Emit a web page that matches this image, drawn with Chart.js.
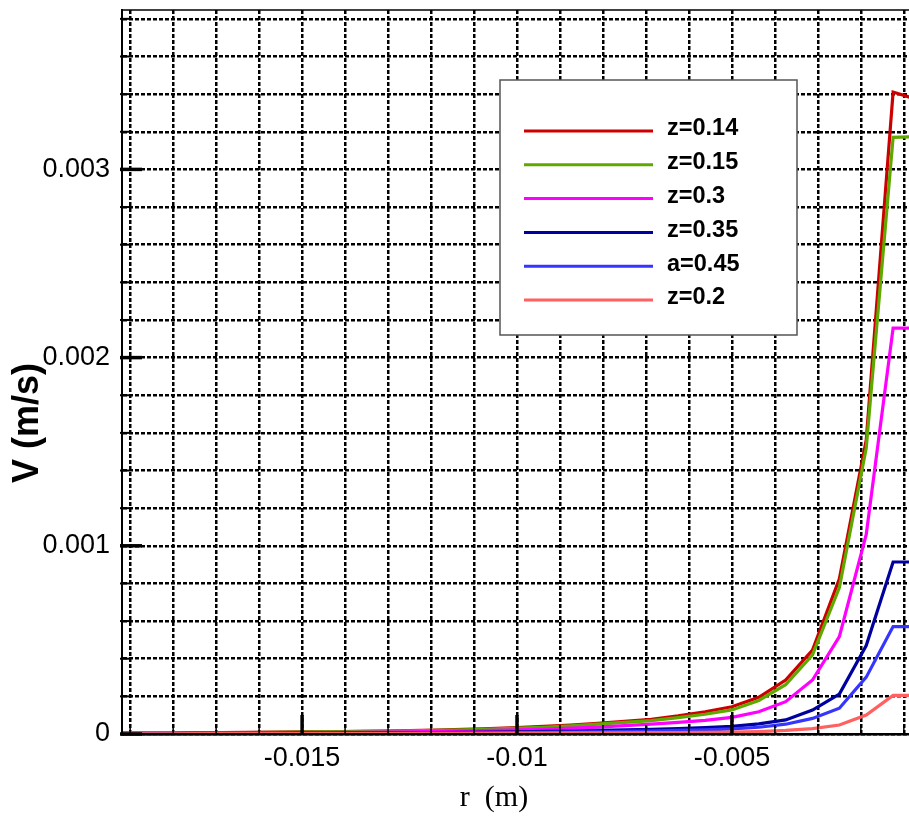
<!DOCTYPE html>
<html>
<head>
<meta charset="utf-8">
<script src="https://cdn.jsdelivr.net/npm/chart.js@4.4.0/dist/chart.umd.min.js"></script>
<style>
  body { margin: 0; background: #fff; }
  .chart-box { position: relative; width: 909px; height: 817px; }
</style>
</head>
<body>
<div class="chart-box"><canvas id="myChart"></canvas></div>
<script>
// radial positions (m)
const rValues = [-0.019375, -0.01875, -0.018125, -0.0175, -0.016875, -0.01625, -0.015625, -0.015,
  -0.014375, -0.01375, -0.013125, -0.0125, -0.011875, -0.01125, -0.010625, -0.01,
  -0.009375, -0.00875, -0.008125, -0.0075, -0.006875, -0.00625, -0.005625, -0.005,
  -0.004375, -0.00375, -0.003125, -0.0025, -0.001875, -0.00125, -0.000625];

// velocity V (m/s) for each section
const vZ014 = [5.5e-6, 6e-6, 6.5e-6, 7e-6, 8e-6, 9e-6, 1.0e-5, 1.1e-5, 1.2e-5, 1.4e-5, 1.6e-5,
  1.8e-5, 2.1e-5, 2.5e-5, 2.9e-5, 3.4e-5, 4.0e-5, 4.7e-5, 5.6e-5, 6.7e-5, 7.8e-5, 9.6e-5,
  1.18e-4, 1.45e-4, 1.95e-4, 2.87e-4, 4.46e-4, 8.24e-4, 1.562e-3, 3.411e-3, 3.367e-3];
const vZ015 = [5e-6, 5.5e-6, 6e-6, 6.5e-6, 7e-6, 8e-6, 9e-6, 1.0e-5, 1.1e-5, 1.3e-5, 1.5e-5,
  1.7e-5, 1.9e-5, 2.2e-5, 2.6e-5, 3.1e-5, 3.6e-5, 4.3e-5, 5.2e-5, 6.2e-5, 7.1e-5, 8.7e-5,
  1.05e-4, 1.28e-4, 1.78e-4, 2.62e-4, 4.20e-4, 7.78e-4, 1.520e-3, 3.170e-3, 3.175e-3];
const vZ03 = [3e-6, 3.5e-6, 4e-6, 4.5e-6, 5e-6, 5.5e-6, 6e-6, 7e-6, 8e-6, 9e-6, 1.0e-5,
  1.2e-5, 1.4e-5, 1.6e-5, 1.9e-5, 2.2e-5, 2.6e-5, 3.1e-5, 3.7e-5, 4.4e-5, 5.2e-5, 6.2e-5,
  7.2e-5, 8.8e-5, 1.18e-4, 1.72e-4, 2.87e-4, 5.17e-4, 1.060e-3, 2.157e-3, 2.157e-3];
const vZ035 = [2e-6, 2.5e-6, 2.5e-6, 3e-6, 3e-6, 3.5e-6, 4e-6, 4.5e-6, 5e-6, 5.5e-6, 6e-6,
  7e-6, 8e-6, 9e-6, 1.0e-5, 1.2e-5, 1.4e-5, 1.6e-5, 1.9e-5, 2.2e-5, 2.5e-5, 2.9e-5,
  3.4e-5, 4.1e-5, 5.4e-5, 7.5e-5, 1.27e-4, 2.12e-4, 4.70e-4, 9.14e-4, 9.14e-4];
const vA045 = [1.5e-6, 2e-6, 2e-6, 2.5e-6, 2.5e-6, 3e-6, 3e-6, 3.5e-6, 4e-6, 4.5e-6, 5e-6,
  5e-6, 5.5e-6, 6e-6, 7e-6, 8e-6, 9e-6, 1.0e-5, 1.2e-5, 1.4e-5, 1.6e-5, 1.9e-5,
  2.2e-5, 2.7e-5, 3.6e-5, 5.2e-5, 8.3e-5, 1.37e-4, 3.02e-4, 5.71e-4, 5.71e-4];
const vZ02 = [1e-6, 1e-6, 1e-6, 1.5e-6, 1.5e-6, 1.5e-6, 2e-6, 2e-6, 2e-6, 2.5e-6, 2.5e-6,
  3e-6, 3e-6, 3.5e-6, 4e-6, 4.5e-6, 5e-6, 5.5e-6, 6e-6, 6.5e-6, 7e-6, 7.5e-6,
  8.5e-6, 1.0e-5, 1.3e-5, 1.9e-5, 2.9e-5, 4.8e-5, 1.01e-4, 2.05e-4, 2.05e-4];

const seriesNames = ["z=0.14", "z=0.15", "z=0.3", "z=0.35", "a=0.45", "z=0.2"];
const seriesValues = [vZ014, vZ015, vZ03, vZ035, vA045, vZ02];
const seriesColors = ["#cc0000", "#5ea800", "#ff00ff", "#00009e", "#3535ff", "#ff6060"];

const xMin = -0.01919, xMax = -0.00088;
const yMin = 0, yMax = 0.003847;

function isMultiple(v, step) {
  const q = v / step;
  return Math.abs(q - Math.round(q)) < 1e-6;
}

// ticks drawn inside the frame, the top edge, axis titles and the boxed legend
const frame = {
  id: 'frame',
  afterDatasetsDraw(chart) {
    const {ctx, chartArea: a, scales: {x, y}} = chart;
    ctx.save();
    ctx.strokeStyle = '#000';

    ctx.lineWidth = 1.5;
    ctx.beginPath();
    ctx.moveTo(a.left, a.top);
    ctx.lineTo(a.right, a.top);
    ctx.stroke();

    y.ticks.forEach(t => {
      const py = y.getPixelForValue(t.value);
      const major = t.label !== '';
      ctx.lineWidth = major ? 3.5 : 2;
      ctx.beginPath();
      ctx.moveTo(a.left - 2, py);
      ctx.lineTo(a.left + (major ? 20 : 7), py);
      ctx.stroke();
    });
    x.ticks.forEach(t => {
      const px = x.getPixelForValue(t.value);
      const major = t.label !== '';
      ctx.lineWidth = major ? 3.5 : 1.5;
      ctx.beginPath();
      ctx.moveTo(px, a.bottom);
      ctx.lineTo(px, a.bottom - (major ? 19 : 9));
      ctx.stroke();
    });

    // axis titles
    ctx.fillStyle = '#000';
    ctx.textAlign = 'center';
    ctx.textBaseline = 'middle';
    ctx.font = '30px "Liberation Serif"';
    ctx.fillText('r  (m)', 494, 798);
    ctx.save();
    ctx.translate(28, 423);
    ctx.rotate(-Math.PI / 2);
    ctx.font = 'bold 36px "Liberation Sans"';
    ctx.fillText('V (m/s)', 0, 0);
    ctx.restore();

    // legend
    const box = {left: 500, top: 80, width: 297, height: 255};
    ctx.fillStyle = '#fff';
    ctx.fillRect(box.left, box.top, box.width, box.height);
    ctx.strokeStyle = '#555';
    ctx.lineWidth = 1.5;
    ctx.strokeRect(box.left, box.top, box.width, box.height);
    ctx.font = 'bold 23.5px "Liberation Sans"';
    ctx.textAlign = 'left';
    chart.data.datasets.forEach((ds, i) => {
      const rowY = 131 + i * 33.8;
      ctx.strokeStyle = ds.borderColor;
      ctx.lineWidth = 3;
      ctx.beginPath();
      ctx.moveTo(524, rowY);
      ctx.lineTo(653, rowY);
      ctx.stroke();
      ctx.fillStyle = '#000';
      ctx.fillText(ds.label, 667, rowY - 2);
    });
    ctx.restore();
  }
};

const datasets = seriesNames.map((name, i) => ({
  label: name,
  data: rValues.map((r, k) => ({x: r, y: seriesValues[i][k]})),
  borderColor: seriesColors[i],
  backgroundColor: seriesColors[i],
  borderWidth: 3.2,
  pointRadius: 0,
  tension: 0,
  fill: false,
  clip: {left: 0, top: 0, right: 0, bottom: 2},
  order: seriesNames.length - i
}));

const tickFont = {family: '"Liberation Sans"', size: 27};

new Chart(document.getElementById('myChart'), {
  type: 'line',
  data: {datasets: datasets},
  plugins: [frame],
  options: {
    responsive: true,
    maintainAspectRatio: false,
    animation: false,
    events: [],
    layout: {padding: {top: 10, right: 0, left: 0, bottom: 0}},
    plugins: {
      legend: {display: false},
      tooltip: {enabled: false}
    },
    scales: {
      x: {
        type: 'linear',
        position: 'bottom',
        min: xMin,
        max: xMax,
        afterFit: s => { s.height = 83; s.paddingLeft = 0; s.paddingRight = 0; },
        ticks: {
          stepSize: 0.001,
          includeBounds: false,
          autoSkip: false,
          maxRotation: 0,
          padding: 8,
          color: '#000',
          font: tickFont,
          callback: v => isMultiple(v, 0.005) ? String(+v.toFixed(3)) : ''
        },
        grid: {color: '#000', lineWidth: 2.5, drawTicks: false},
        border: {display: true, color: '#000', width: 2.5, dash: [4, 2], z: 1}
      },
      y: {
        type: 'linear',
        position: 'left',
        min: yMin,
        max: yMax,
        afterFit: s => { s.width = 122; s.paddingTop = 0; s.paddingBottom = 0; },
        ticks: {
          stepSize: 0.0002,
          includeBounds: false,
          autoSkip: false,
          padding: 12,
          color: '#000',
          font: tickFont,
          callback: v => isMultiple(v, 0.001) ? String(+v.toFixed(3)) : ''
        },
        grid: {color: '#000', lineWidth: 2.5, drawTicks: false},
        border: {display: true, color: '#000', width: 2, dash: [4, 2], z: 1}
      }
    }
  }
});
</script>
</body>
</html>
